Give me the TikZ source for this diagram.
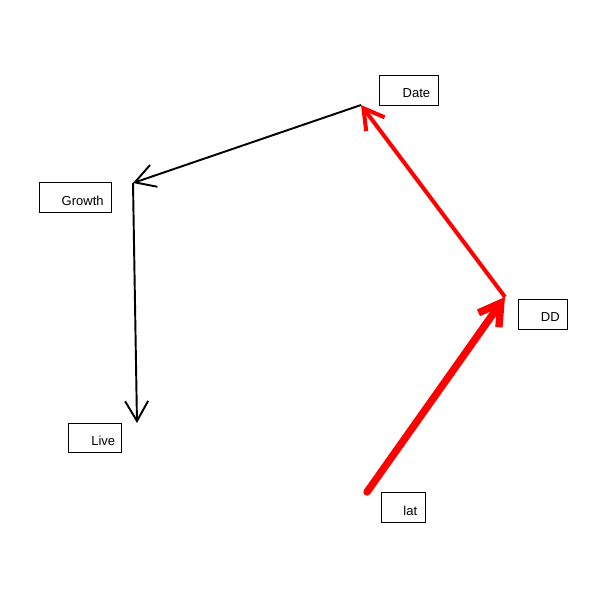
\documentclass[tikz,border=0pt]{standalone}
\usepackage{fontspec}
\setmainfont{Liberation Sans}
\usetikzlibrary{arrows.meta}
\tikzset{
  box/.style={draw=black, line width=0.567pt, anchor=north west, inner sep=0pt, fill=white},
  lbl/.style={anchor=east, inner sep=0pt, font=\fontsize{7.4}{8}\selectfont},
  barb/.style={-{Straight Barb[length=0.4cm, width=0.46cm]}},
  blackarrow/.style={barb, draw=black, line width=1.1pt},
  redthin/.style={barb, draw=red, line width=2.3pt},
  redthick/.style={-{Straight Barb[length=0.42cm, width=0.5cm]}, draw=red, line width=4.2pt, line cap=round},
}
\begin{document}
\begin{tikzpicture}[x=0.02cm, y=-0.02cm]
\useasboundingbox (0,0) rectangle (600,600);
% boxes
\node[box, minimum width=59*0.02cm, minimum height=30*0.02cm] (bDate) at (379,75) {};
\node[lbl] at ([xshift=-0.17cm, yshift=-0.06cm]bDate.east) {Date};
\node[box, minimum width=72*0.02cm, minimum height=30*0.02cm] (bGrowth) at (39,182) {};
\node[lbl] at ([xshift=-0.16cm, yshift=-0.06cm]bGrowth.east) {Growth};
\node[box, minimum width=49*0.02cm, minimum height=30*0.02cm] (bDD) at (518,299) {};
\node[lbl] at ([xshift=-0.16cm, yshift=-0.06cm]bDD.east) {DD};
\node[box, minimum width=53*0.02cm, minimum height=29*0.02cm] (bLive) at (68,423) {};
\node[lbl] at ([xshift=-0.13cm, yshift=-0.06cm]bLive.east) {Live};
\node[box, minimum width=44*0.02cm, minimum height=30*0.02cm] (blat) at (381,492) {};
\node[lbl] at ([xshift=-0.17cm, yshift=-0.06cm]blat.east) {lat};
% arrow anchor points
\coordinate (cDate) at (361,105);
\coordinate (cGrowth) at (133,183);
\coordinate (cLive) at (137,423);
\coordinate (cDD) at (505,297);
\coordinate (clat) at (367,492);
% arrows
\draw[blackarrow] (cDate) -- (cGrowth);
\draw[blackarrow] (cGrowth) -- (cLive);
\draw[redthin] (cDD) -- (cDate);
\draw[redthick] (clat) -- (cDD);
\end{tikzpicture}
\end{document}
